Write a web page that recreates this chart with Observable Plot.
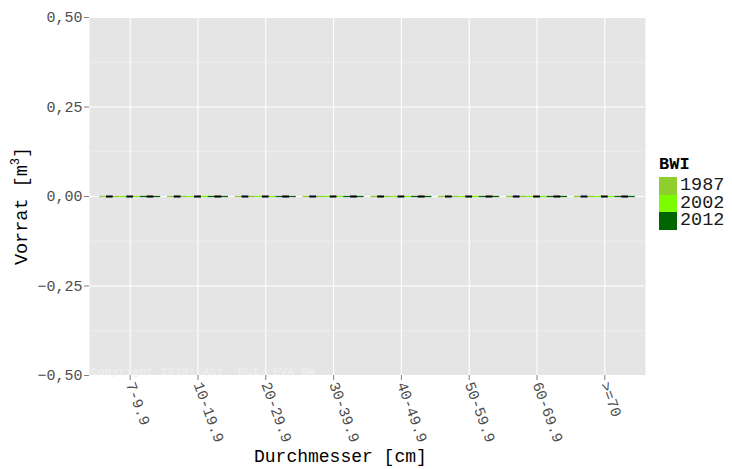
<!DOCTYPE html>
<html>
<head>
<meta charset="utf-8">
<script src="https://cdn.jsdelivr.net/npm/d3@7"></script>
<script src="https://cdn.jsdelivr.net/npm/@observablehq/plot@0.6"></script>
<style>
  html, body { margin: 0; padding: 0; background: #ffffff; }
  #wrap { position: relative; width: 732px; height: 469px; font-family: "Liberation Mono", "DejaVu Sans Mono", monospace; }
  #legend { position: absolute; left: 659px; top: 155px; color: #000; }
  #legend .title { font-weight: bold; font-size: 17px; line-height: 20px; height: 22px; }
  #legend .row { display: flex; align-items: center; height: 17.5px; }
  #legend .key { width: 18px; height: 17.5px; margin-right: 3px; }
  #legend .lab { font-size: 18.5px; line-height: 17px; color: #1a1a1a; }
</style>
</head>
<body>
<div id="wrap"></div>
<script>
const categories = ["7-9.9", "10-19.9", "20-29.9", "30-39.9", "40-49.9", "50-59.9", "60-69.9", ">=70"];
const years = ["1987", "2002", "2012"];
const yearColors = ["#8fce2f", "#7cfc00", "#006400"];
const vorrat1987 = [0, 0, 0, 0, 0, 0, 0, 0];
const vorrat2002 = [0, 0, 0, 0, 0, 0, 0, 0];
const vorrat2012 = [0, 0, 0, 0, 0, 0, 0, 0];
const fehler1987 = [0, 0, 0, 0, 0, 0, 0, 0];
const fehler2002 = [0, 0, 0, 0, 0, 0, 0, 0];
const fehler2012 = [0, 0, 0, 0, 0, 0, 0, 0];
const yTicks = [-0.5, -0.25, 0, 0.25, 0.5];
const yMinor = [-0.375, -0.125, 0.125, 0.375];

const series = [vorrat1987, vorrat2002, vorrat2012];
const errs = [fehler1987, fehler2002, fehler2012];
const rows = [];
years.forEach((yr, j) => {
  categories.forEach((c, i) => {
    rows.push({cat: c, pos: i + 1, j, year: yr, value: series[j][i], err: errs[j][i]});
  });
});
const barW = 0.3;
const left = d => d.pos - 0.45 + d.j * barW;
const center = d => left(d) + barW / 2;

const fmt = v => d3.format(".2f")(v).replace(".", ",").replace("-", "\u2212");
const font = "Liberation Mono";

const chart = Plot.plot({
  width: 732,
  height: 469,
  marginLeft: 89,
  marginRight: 87,
  marginTop: 17,
  marginBottom: 94,
  style: {fontFamily: font, background: "#ffffff", overflow: "visible"},
  x: {domain: [0.4, 8.6], axis: null},
  y: {domain: [-0.5, 0.5], axis: null},
  color: {domain: years, range: yearColors},
  marks: [
    Plot.frame({fill: "#e5e5e5", stroke: null}),
    Plot.ruleY(yMinor, {stroke: "#f2f2f2", strokeWidth: 0.6}),
    Plot.ruleY(yTicks, {stroke: "#ffffff", strokeWidth: 1.1}),
    Plot.ruleX(d3.range(1, categories.length + 1), {stroke: "#ffffff", strokeWidth: 1.1}),
    Plot.text(["Copyright 2015: Abt. BuI, FVA BW"], {
      frameAnchor: "bottom-left", dx: 1, dy: -1, textAnchor: "start", lineAnchor: "bottom",
      fill: "#f0f0f0", fontSize: 11.7, fontFamily: font
    }),
    Plot.rect(rows, {
      x1: left, x2: d => left(d) + barW, y1: 0, y2: "value",
      fill: "year"
    }),
    Plot.ruleY(rows, {
      y: "value", x1: left, x2: d => left(d) + barW,
      stroke: "year", strokeWidth: 1.2
    }),
    Plot.ruleY(rows, {
      y: "value", x1: d => center(d) - 0.05, x2: d => center(d) + 0.05,
      stroke: "#000000", strokeWidth: 2
    }),
    Plot.axisY(yTicks, {
      tickSize: 5, tickPadding: 2, stroke: "#7f7f7f", tickFormat: fmt,
      fontSize: 15, fill: "#4d4d4d", label: null
    }),
    Plot.axisX(d3.range(1, categories.length + 1), {
      tickSize: 5, tickPadding: 2, stroke: "#7f7f7f",
      tickFormat: d => categories[d - 1], tickRotate: 70,
      fontSize: 15, fill: "#4d4d4d", label: null
    }),
    Plot.text(["Durchmesser [cm]"], {
      x: 4.1, y: -0.5, dy: 86, fontSize: 18, fill: "#000", fontFamily: font, lineAnchor: "bottom"
    })
  ]
});

const wrap = document.getElementById("wrap");
wrap.appendChild(chart);

// Y axis title with superscript
const svg = d3.select(chart);
const yt = svg.append("text")
  .attr("transform", "translate(27,206) rotate(-90)")
  .attr("text-anchor", "middle")
  .attr("font-family", font)
  .attr("font-size", 18.5)
  .attr("fill", "#000");
yt.append("tspan").text("Vorrat [m");
yt.append("tspan").attr("font-size", 12).attr("dy", -8).text("3");
yt.append("tspan").attr("dy", 8).text("]");

// Legend
const lg = document.createElement("div");
lg.id = "legend";
let html = '<div class="title">BWI</div>';
years.forEach((y, j) => {
  html += `<div class="row"><div class="key" style="background:${yearColors[j]}"></div><div class="lab">${y}</div></div>`;
});
lg.innerHTML = html;
wrap.appendChild(lg);
</script>
</body>
</html>
